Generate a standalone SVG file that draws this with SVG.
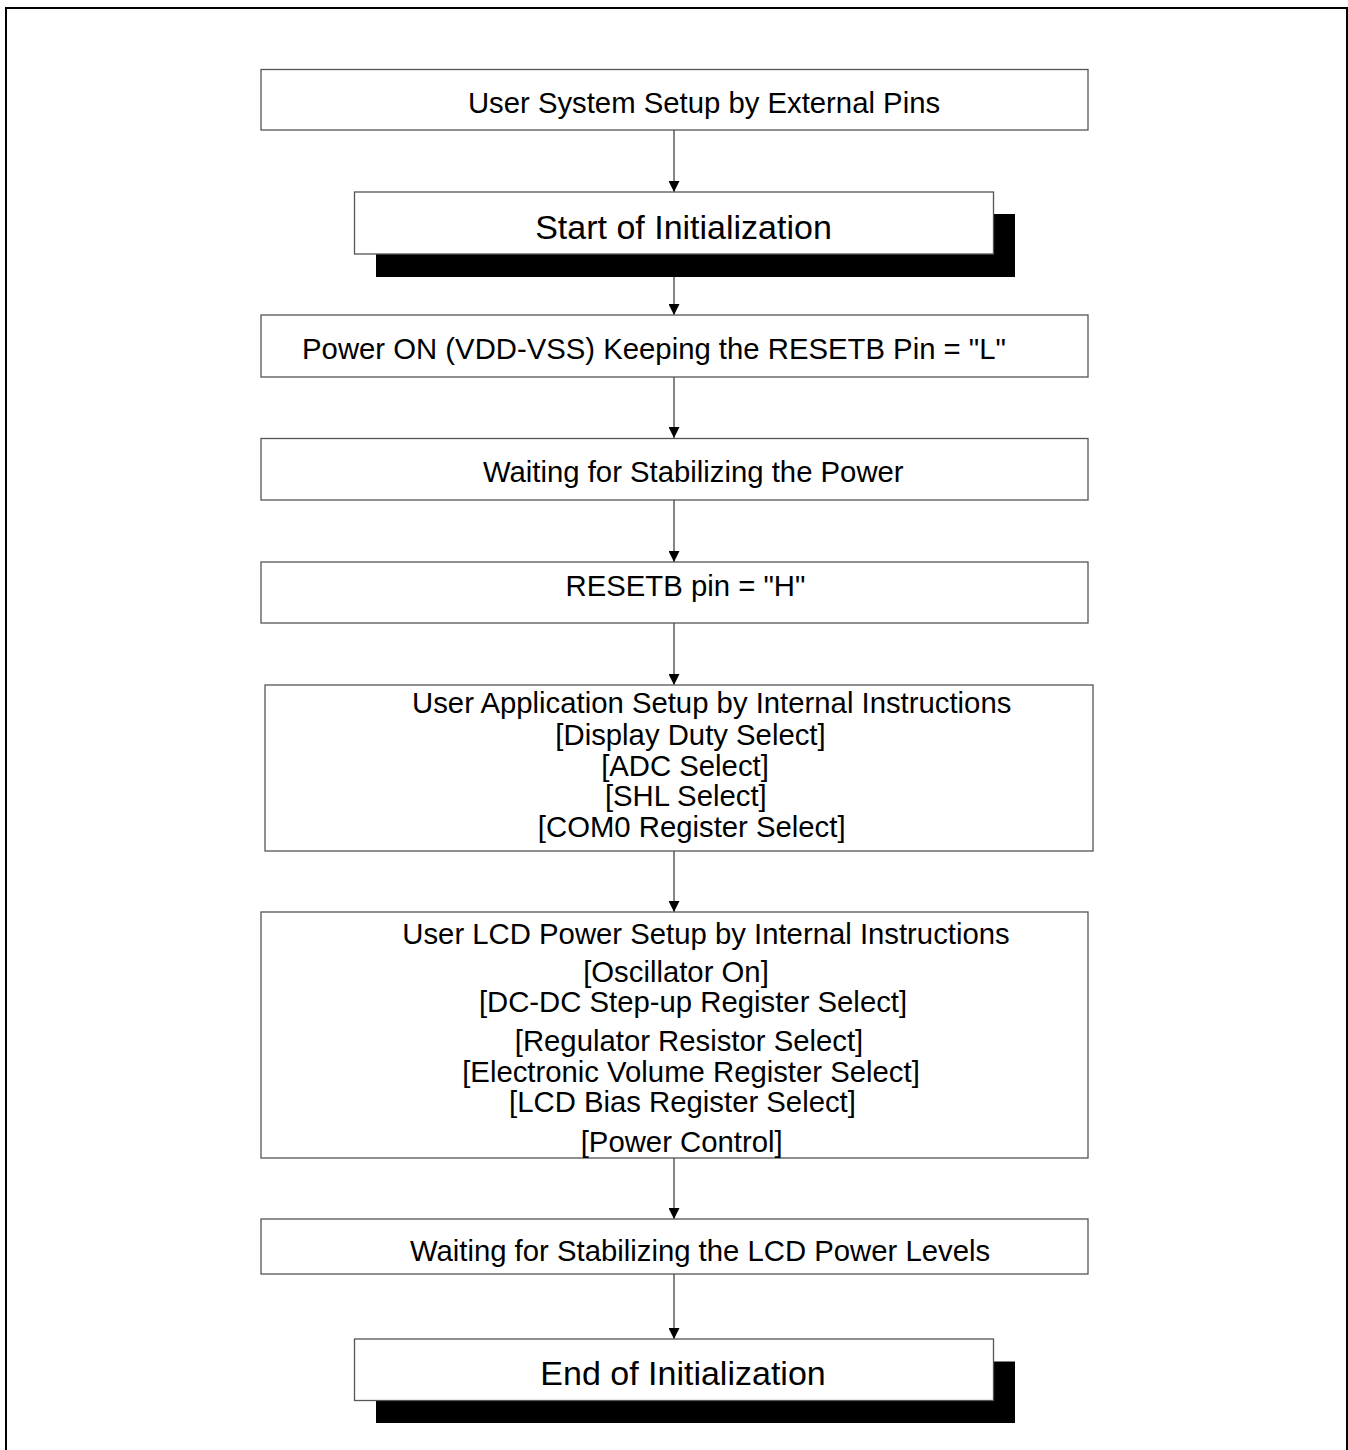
<svg xmlns="http://www.w3.org/2000/svg" width="1348" height="1450" viewBox="0 0 1348 1450">
<style>
.box{fill:#fff;stroke:#555;stroke-width:1.3}
.shadow{fill:#000}
.t{font-family:"Liberation Sans",Arial,sans-serif;font-size:29.3px;fill:#000;text-anchor:middle}
.tb{font-family:"Liberation Sans",Arial,sans-serif;font-size:34px;fill:#000;text-anchor:middle}
.conn{stroke:#333;stroke-width:1.2;fill:none;marker-end:url(#ah)}
</style>
<defs>
<marker id="ah" markerUnits="userSpaceOnUse" markerWidth="11" markerHeight="11" refX="11" refY="5.5" orient="auto">
<path d="M0,0 L11,5.5 L0,11 z" fill="#000"/>
</marker>
</defs>
<rect width="1348" height="1450" fill="#fff"/>
<path d="M6,1450 V8 H1347 V1450" fill="none" stroke="#000" stroke-width="2"/>

<g id="connectors">
<line class="conn" x1="674" y1="130" x2="674" y2="192"/>
<line class="conn" x1="674" y1="254" x2="674" y2="315"/>
<line class="conn" x1="674" y1="377" x2="674" y2="438"/>
<line class="conn" x1="674" y1="500" x2="674" y2="562"/>
<line class="conn" x1="674" y1="623" x2="674" y2="685"/>
<line class="conn" x1="674" y1="851" x2="674" y2="912"/>
<line class="conn" x1="674" y1="1158" x2="674" y2="1219"/>
<line class="conn" x1="674" y1="1274" x2="674" y2="1339"/>
</g>

<g id="n1">
<rect class="box" x="261" y="69.5" width="827" height="60.5"/>
<text class="t" x="704" y="113">User System Setup by External Pins</text>
</g>

<g id="n2">
<rect class="shadow" x="376" y="214" width="639" height="63"/>
<rect class="box" x="354.5" y="192" width="639" height="62" stroke="#333"/>
<text class="tb" x="683.5" y="238.5">Start of Initialization</text>
</g>

<g id="n3">
<rect class="box" x="261" y="315" width="827" height="62"/>
<text class="t" x="654" y="359">Power ON (VDD-VSS) Keeping the RESETB Pin = "L"</text>
</g>

<g id="n4">
<rect class="box" x="261" y="438.5" width="827" height="61.5"/>
<text class="t" x="693.3" y="482">Waiting for Stabilizing the Power</text>
</g>

<g id="n5">
<rect class="box" x="261" y="562" width="827" height="61"/>
<text class="t" x="685.5" y="596">RESETB pin = "H"</text>
</g>

<g id="n6">
<rect class="box" x="265" y="685" width="828" height="166"/>
<text class="t" x="711.7" y="713">User Application Setup by Internal Instructions</text>
<text class="t" x="690.5" y="745">[Display Duty Select]</text>
<text class="t" x="685" y="776">[ADC Select]</text>
<text class="t" x="685.8" y="806">[SHL Select]</text>
<text class="t" x="691.7" y="837">[COM0 Register Select]</text>
</g>

<g id="n7">
<rect class="box" x="261" y="912" width="827" height="246"/>
<text class="t" x="706" y="944">User LCD Power Setup by Internal Instructions</text>
<text class="t" x="676" y="982">[Oscillator On]</text>
<text class="t" x="693" y="1012">[DC-DC Step-up Register Select]</text>
<text class="t" x="689" y="1051">[Regulator Resistor Select]</text>
<text class="t" x="691" y="1082">[Electronic Volume Register Select]</text>
<text class="t" x="682.5" y="1112">[LCD Bias Register Select]</text>
<text class="t" x="681.7" y="1152">[Power Control]</text>
</g>

<g id="n8">
<rect class="box" x="261" y="1219" width="827" height="55"/>
<text class="t" x="700" y="1261">Waiting for Stabilizing the LCD Power Levels</text>
</g>

<g id="n9">
<rect class="shadow" x="376" y="1361.5" width="639" height="61.5"/>
<rect class="box" x="354.5" y="1339" width="639" height="61.5" stroke="#333"/>
<text class="tb" x="683" y="1385">End of Initialization</text>
</g>
</svg>
